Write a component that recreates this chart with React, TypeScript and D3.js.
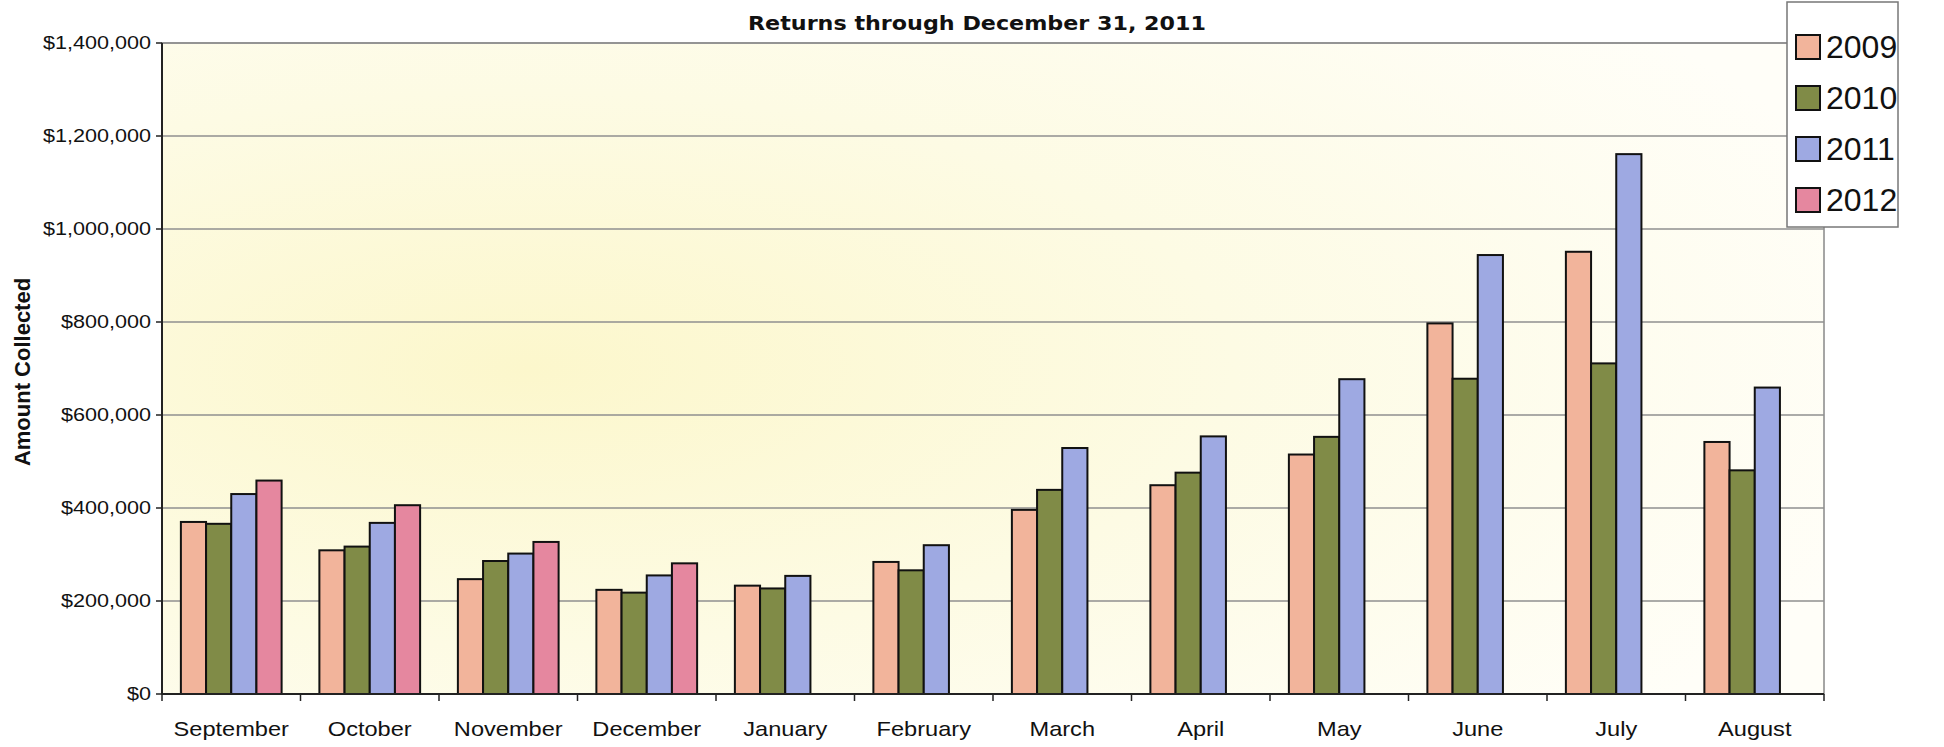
import React from 'react';
import * as d3 from 'd3';

const months = ['September', 'October', 'November', 'December', 'January', 'February', 'March', 'April', 'May', 'June', 'July', 'August'];
const years = ['2009', '2010', '2011', '2012'];
const values2009 = [370000, 309000, 247000, 224000, 233000, 284000, 396000, 449000, 515000, 797000, 951000, 542000];
const values2010 = [366000, 317000, 286000, 218000, 227000, 266000, 439000, 476000, 553000, 678000, 711000, 481000];
const values2011 = [430000, 368000, 302000, 255000, 254000, 320000, 529000, 554000, 677000, 944000, 1161000, 659000];
const values2012: (number | null)[] = [459000, 406000, 327000, 281000, null, null, null, null, null, null, null, null];
const yTicks = [0, 200000, 400000, 600000, 800000, 1000000, 1200000, 1400000];
const colors = ['#F2B49B', '#808B47', '#9EA9E2', '#E5879F'];
const title = 'Returns through December 31, 2011';
const yTitle = 'Amount Collected';

const W = 1944, H = 747;
const left = 162, right = 1824, top = 43, bottom = 694;

function SText({ x, y, sx = 1, anchor = 'start', size, weight = 'normal', children, family = 'Liberation Sans, Arial, sans-serif' }: any) {
  return (
    <g transform={`translate(${x},${y}) scale(${sx},1)`}>
      <text x={0} y={0} textAnchor={anchor} dominantBaseline="central" fontSize={size} fontWeight={weight} fontFamily={family} fill="#111">{children}</text>
    </g>
  );
}

export default function App() {
  const series = [values2009, values2010, values2011, values2012];
  const x = d3.scaleBand<string>().domain(months).range([left, right]).paddingInner(0).paddingOuter(0);
  const xi = d3.scaleBand<string>().domain(years).range([0, x.bandwidth()]).paddingInner(0).paddingOuter(0.75);
  const y = d3.scaleLinear().domain([0, 1400000]).range([bottom, top]);
  const fmt = (v: number) => '$' + d3.format(',')(v);
  const tickX = months.map((_, i) => left + i * x.step()).concat([right]);

  return (
    <svg width={W} height={H} style={{ position: 'absolute', left: 0, top: 0, background: '#fff' }}>
      <defs>
        <radialGradient id="bg" cx="0.22" cy="0.5" r="0.85">
          <stop offset="0" stopColor="#FCF7CC" />
          <stop offset="0.5" stopColor="#FDFBE4" />
          <stop offset="1" stopColor="#FFFEF8" />
        </radialGradient>
      </defs>
      <rect x={left} y={top} width={right - left} height={bottom - top} fill="url(#bg)" stroke="#888" strokeWidth={1.5} />
      {yTicks.map(t => (
        <g key={t}>
          {t > 0 && <line x1={left} x2={right} y1={y(t)} y2={y(t)} stroke="#8f8f8f" strokeWidth={1.6} />}
          <line x1={left - 6} x2={left} y1={y(t)} y2={y(t)} stroke="#222" strokeWidth={1.5} />
          <SText x={left - 11} y={y(t)} anchor="end" size={18} sx={1.2}>{fmt(t)}</SText>
        </g>
      ))}
      {months.map((m, i) => (
        <g key={m}>
          {series.map((s, k) => {
            const v = s[i];
            if (v == null) return null;
            const bx = (x(m) as number) + (xi(years[k]) as number);
            return <rect key={k} x={bx} y={y(v)} width={xi.bandwidth()} height={y(0) - y(v)} fill={colors[k]} stroke="#111" strokeWidth={2} />;
          })}
          <SText x={(x(m) as number) + x.bandwidth() / 2} y={729} anchor="middle" size={20} sx={1.18}>{m}</SText>
        </g>
      ))}
      {tickX.map((tx, i) => (
        <line key={i} x1={tx} x2={tx} y1={bottom} y2={bottom + 7} stroke="#222" strokeWidth={1.5} />
      ))}
      <line x1={left} x2={right} y1={bottom} y2={bottom} stroke="#222" strokeWidth={2} />
      <line x1={left} x2={left} y1={top} y2={bottom} stroke="#222" strokeWidth={2} />
      <text x={977} y={23} textAnchor="middle" dominantBaseline="central" fontSize={20} fontWeight="bold" fontFamily="DejaVu Sans, sans-serif" textLength={458} lengthAdjust="spacingAndGlyphs" fill="#111">{title}</text>
      <text transform={`translate(22,372) rotate(-90)`} textAnchor="middle" dominantBaseline="central" fontSize={22} fontWeight="bold" fontFamily="Liberation Sans, Arial, sans-serif" fill="#111">{yTitle}</text>
      <g>
        <rect x={1787} y={2} width={111} height={225} fill="#fff" stroke="#777" strokeWidth={1.5} />
        {years.map((yr, k) => (
          <g key={yr}>
            <rect x={1796} y={47 + k * 51 - 12} width={24} height={24} fill={colors[k]} stroke="#111" strokeWidth={2} />
            <text x={1826} y={47 + k * 51} dominantBaseline="central" fontSize={32} fontFamily="Liberation Sans, Arial, sans-serif" fill="#111">{yr}</text>
          </g>
        ))}
      </g>
    </svg>
  );
}
